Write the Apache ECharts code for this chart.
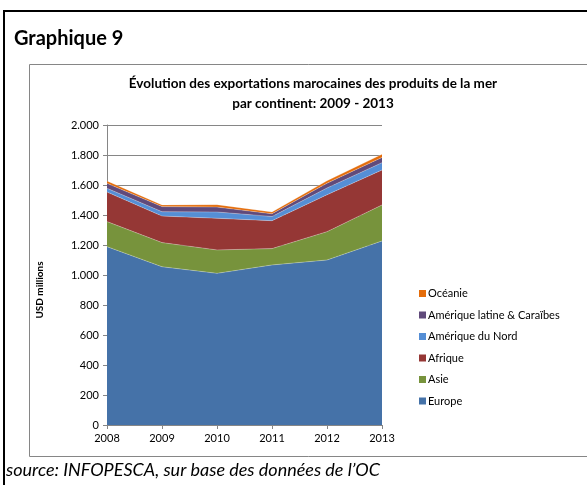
<!DOCTYPE html>
<html>
<head>
<meta charset="utf-8">
<script src="https://cdn.jsdelivr.net/npm/echarts@6/dist/echarts.min.js"></script>
<style>
  html, body { margin: 0; padding: 0; background: #fff; }
  #echart { width: 587px; height: 485px; }
</style>
</head>
<body>
<div id="echart"></div>
<script>
var years = ['2008', '2009', '2010', '2011', '2012', '2013'];

// USD millions
var europe = [1189, 1055, 1011, 1067, 1100, 1227];
var asie = [167, 161, 156, 109, 189, 240];
var afrique = [197, 177, 211, 186, 246, 233];
var ameriqueNord = [25, 29, 42, 28, 45, 49];
var ameriqueLatine = [33, 34, 33, 18, 32, 35];
var oceanie = [16, 11, 16, 12, 16, 21];

var names = ['Europe', 'Asie', 'Afrique', 'Amérique du Nord', 'Amérique latine & Caraïbes', 'Océanie'];
var values = [europe, asie, afrique, ameriqueNord, ameriqueLatine, oceanie];
var colors = ['#4572a8', '#77933c', '#953735', '#558ed5', '#604a7b', '#e46c0a'];

var font = 'Lato, "Open Sans", sans-serif';

function areaSeries(i) {
  return {
    name: names[i],
    type: 'line',
    stack: 'total',
    symbol: 'none',
    smooth: false,
    lineStyle: { width: 0.6, color: 'rgba(255,255,255,0.45)' },
    itemStyle: { color: colors[i] },
    areaStyle: { color: colors[i], opacity: 1 },
    data: values[i]
  };
}

var option = {
  animation: false,
  textStyle: { fontFamily: font },
  title: {
    text: 'Évolution des exportations marocaines des produits de la mer\npar continent: 2009 - 2013',
    left: 308,
    top: 69,
    textAlign: 'center',
    textStyle: { fontFamily: font, fontSize: 13.5, fontWeight: 'bold', color: '#000', lineHeight: 20 }
  },
  legend: {
    orient: 'vertical',
    left: 414,
    top: 283,
    itemWidth: 7,
    itemHeight: 7,
    itemGap: 10.5,
    icon: 'rect',
    data: names.slice().reverse(),
    textStyle: { fontFamily: font, fontSize: 11, color: '#000', padding: [0, 0, 0, -3] }
  },
  grid: { left: 107, right: 205, top: 125, bottom: 60 },
  xAxis: {
    type: 'category',
    boundaryGap: false,
    data: years,
    axisLine: { lineStyle: { color: '#868686' } },
    axisTick: { alignWithLabel: true, length: 4, lineStyle: { color: '#868686' } },
    axisLabel: { color: '#000', fontSize: 11, fontFamily: font, margin: 8 }
  },
  yAxis: {
    type: 'value',
    min: 0,
    max: 2000,
    interval: 200,
    axisLine: { show: true, lineStyle: { color: '#868686' } },
    axisTick: { show: true, length: 4, lineStyle: { color: '#868686' } },
    splitLine: { lineStyle: { color: '#868686', width: 1 } },
    axisLabel: {
      color: '#000',
      fontSize: 11,
      fontFamily: font,
      margin: 8,
      formatter: function (v) {
        return v >= 1000 ? Math.floor(v / 1000) + '.' + String(v % 1000).padStart(3, '0') : String(v);
      }
    }
  },
  graphic: [
    {
      type: 'rect',
      shape: { x: 4, y: 11, width: 590, height: 490 },
      style: { fill: 'none', stroke: '#000', lineWidth: 2 },
      z: -10
    },
    {
      type: 'rect',
      shape: { x: 29.5, y: 64.5, width: 560, height: 392 },
      style: { fill: 'none', stroke: '#868686', lineWidth: 1 },
      z: -10
    },
    {
      type: 'text',
      left: 14,
      top: 29,
      style: { text: 'Graphique 9', font: 'bold 20px ' + font, fill: '#000' }
    },
    {
      type: 'text',
      x: 40,
      y: 290,
      rotation: Math.PI / 2,
      style: {
        text: 'USD millions',
        font: 'bold 10px ' + font,
        fill: '#000',
        align: 'center',
        verticalAlign: 'middle'
      }
    },
    {
      type: 'text',
      left: 6,
      top: 461,
      style: { text: 'source: INFOPESCA, sur base des données de l’OC', font: 'italic 18px ' + font, fill: '#000' }
    }
  ],
  series: values.map(function (v, i) { return areaSeries(i); })
};

var chart = echarts.init(document.getElementById('echart'));
chart.setOption(option);
</script>
</body>
</html>
